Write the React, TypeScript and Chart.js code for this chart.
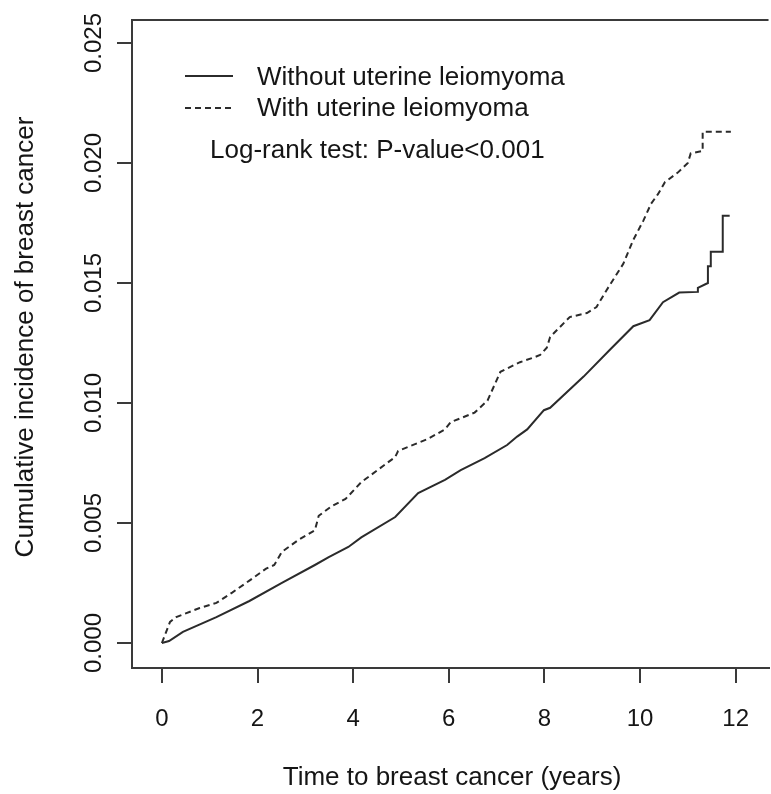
import React, { useEffect, useRef } from 'react';
import { Chart, registerables } from 'chart.js';

Chart.register(...registerables);

// ---------- data ----------
const xTickValues = [0, 2, 4, 6, 8, 10, 12];
const yTickValues = [0, 0.005, 0.01, 0.015, 0.02, 0.025];

const withoutTimes = [0, 0.15, 0.44, 1.14, 1.83, 2.51, 3.2, 3.49, 3.9, 4.17, 4.88, 5.36, 5.92, 6.25, 6.75, 7.22, 7.43, 7.64, 7.99, 8.12, 8.82, 9.36, 9.86, 10.2, 10.48, 10.82, 11.21, 11.21, 11.42, 11.42, 11.48, 11.48, 11.73, 11.73, 11.875];
const withoutValues = [0, 0.00008, 0.00046, 0.00108, 0.00175, 0.0025, 0.00325, 0.00358, 0.004, 0.0044, 0.00525, 0.00625, 0.0068, 0.0072, 0.0077, 0.00825, 0.0086, 0.0089, 0.0097, 0.0098, 0.0111, 0.0122, 0.0132, 0.01345, 0.0142, 0.0146, 0.01463, 0.0148, 0.015, 0.0157, 0.0157, 0.0163, 0.0163, 0.0178, 0.0178];

const withTimes = [0, 0.17, 0.3, 0.79, 1.14, 1.47, 1.83, 2.18, 2.35, 2.51, 2.86, 3.2, 3.28, 3.55, 3.84, 4.17, 4.88, 4.94, 5.56, 5.92, 6.04, 6.54, 6.81, 7.08, 7.49, 7.78, 7.91, 8.05, 8.12, 8.53, 8.89, 9.09, 9.3, 9.65, 9.86, 10.07, 10.23, 10.375, 10.52, 10.79, 11.0, 11.06, 11.31, 11.31, 11.9];
const withValues = [0, 0.00088, 0.00108, 0.00146, 0.00167, 0.0021, 0.0026, 0.0031, 0.00325, 0.0038, 0.0043, 0.0047, 0.0053, 0.0057, 0.006, 0.0067, 0.00775, 0.008, 0.0085, 0.0089, 0.0092, 0.0096, 0.0101, 0.0113, 0.0117, 0.0119, 0.012, 0.0123, 0.01275, 0.01358, 0.01375, 0.014, 0.0147, 0.0158, 0.0168, 0.0176, 0.0183, 0.0187, 0.0192, 0.0196, 0.02, 0.0204, 0.0205, 0.0213, 0.0213];

const seriesLabels = ['Without uterine leiomyoma', 'With uterine leiomyoma'];
const testLabel = 'Log-rank test: P-value<0.001';
const xTitle = 'Time to breast cancer (years)';
const yTitle = 'Cumulative incidence of breast cancer';

// ---------- styles ----------
const FONT = '"Liberation Sans", Arial, Helvetica, sans-serif';
const LINE_COLOR = '#2b2b2b';
const AXIS_COLOR = '#3a3a3a';
const TEXT_COLOR = '#151515';
const TICK_FONT_SIZE = 24;
const LABEL_FONT_SIZE = 26;
const DASH = [6, 4];

const W = 771;
const H = 794;

function measure(text: string, size: number): number {
  const c = document.createElement('canvas');
  const ctx = c.getContext('2d')!;
  ctx.font = `${size}px ${FONT}`;
  return ctx.measureText(text).width;
}

const decorPlugin = {
  id: 'decor',
  afterDraw(chart: any) {
    const { ctx, chartArea } = chart;
    ctx.save();
    // top frame line
    ctx.strokeStyle = AXIS_COLOR;
    ctx.lineWidth = 2;
    ctx.beginPath();
    ctx.moveTo(chartArea.left, chartArea.top);
    ctx.lineTo(chartArea.right, chartArea.top);
    ctx.stroke();

    // legend
    ctx.strokeStyle = LINE_COLOR;
    ctx.lineWidth = 2;
    ctx.setLineDash([]);
    ctx.beginPath();
    ctx.moveTo(185, 76);
    ctx.lineTo(233, 76);
    ctx.stroke();
    ctx.setLineDash(DASH);
    ctx.beginPath();
    ctx.moveTo(185, 108);
    ctx.lineTo(233, 108);
    ctx.stroke();
    ctx.setLineDash([]);

    ctx.fillStyle = TEXT_COLOR;
    ctx.font = `${LABEL_FONT_SIZE}px ${FONT}`;
    ctx.textAlign = 'left';
    ctx.textBaseline = 'middle';
    ctx.fillText(seriesLabels[0], 257, 78);
    ctx.fillText(seriesLabels[1], 257, 109);
    ctx.fillText(testLabel, 210, 151);

    // axis titles
    ctx.textAlign = 'center';
    ctx.fillText(xTitle, 452, 778);
    ctx.translate(26, 337);
    ctx.rotate(-Math.PI / 2);
    ctx.fillText(yTitle, 0, 0);
    ctx.restore();
  },
};

export default function App() {
  const ref = useRef<HTMLCanvasElement | null>(null);

  useEffect(() => {
    if (!ref.current) return;
    const widest = measure('0.000', TICK_FONT_SIZE);
    const yLabelCenter = 94;
    const yTickLen = 15;
    const yPad = 132 - yTickLen - yLabelCenter - widest / 2;

    const chart = new Chart(ref.current, {
      type: 'line',
      data: {
        datasets: [
          {
            label: seriesLabels[0],
            data: withoutTimes.map((t, i) => ({ x: t, y: withoutValues[i] })),
            borderColor: LINE_COLOR,
            borderWidth: 2,
            pointRadius: 0,
            fill: false,
            tension: 0,
          },
          {
            label: seriesLabels[1],
            data: withTimes.map((t, i) => ({ x: t, y: withValues[i] })),
            borderColor: LINE_COLOR,
            borderWidth: 2,
            borderDash: DASH,
            pointRadius: 0,
            fill: false,
            tension: 0,
          },
        ],
      },
      options: {
        animation: false,
        responsive: false,
        devicePixelRatio: 1,
        layout: { padding: { top: 20, right: 0, bottom: 0, left: 0 } },
        plugins: {
          legend: { display: false },
          tooltip: { enabled: false },
          title: { display: false },
        },
        scales: {
          x: {
            type: 'linear',
            min: -0.625,
            max: 12.6875,
            afterBuildTicks: (scale: any) => {
              scale.ticks = xTickValues.map((v) => ({ value: v }));
            },
            afterFit: (scale: any) => {
              scale.height = H - 668;
            },
            grid: {
              drawOnChartArea: false,
              drawTicks: true,
              tickLength: 15,
              color: AXIS_COLOR,
              lineWidth: 2,
            },
            border: { display: true, color: AXIS_COLOR, width: 2 },
            ticks: {
              autoSkip: false,
              maxRotation: 0,
              minRotation: 0,
              padding: 22,
              color: TEXT_COLOR,
              font: { family: FONT, size: TICK_FONT_SIZE },
              callback: (v: any) => String(v),
            },
          },
          y: {
            type: 'linear',
            min: -0.0010417,
            max: 0.0259583,
            afterBuildTicks: (scale: any) => {
              scale.ticks = yTickValues.map((v) => ({ value: v }));
            },
            afterFit: (scale: any) => {
              scale.width = 132;
            },
            grid: {
              drawOnChartArea: false,
              drawTicks: true,
              tickLength: yTickLen,
              color: AXIS_COLOR,
              lineWidth: 2,
            },
            border: { display: true, color: AXIS_COLOR, width: 2 },
            ticks: {
              autoSkip: false,
              minRotation: 90,
              maxRotation: 90,
              crossAlign: 'center',
              padding: yPad,
              color: TEXT_COLOR,
              font: { family: FONT, size: TICK_FONT_SIZE },
              callback: (v: any) => Number(v).toFixed(3),
            },
          },
        },
      },
      plugins: [decorPlugin],
    } as any);

    return () => chart.destroy();
  }, []);

  return (
    <div style={{ position: 'fixed', left: 0, top: 0, width: W, height: H, background: '#fff' }}>
      <canvas ref={ref} width={W} height={H} style={{ width: W, height: H, display: 'block' }} />
    </div>
  );
}
